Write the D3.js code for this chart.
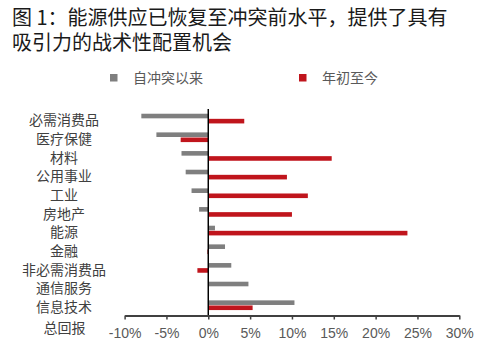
<!DOCTYPE html>
<html><head><meta charset="utf-8">
<script src="https://cdn.jsdelivr.net/npm/d3@7"></script>
<style>
body{margin:0;background:#fff;}
svg{font-family:"Liberation Sans","Noto Sans CJK SC",sans-serif;}
</style></head>
<body><svg id="c" width="487" height="347"></svg>
<script>
const titleLines = ["图 1：能源供应已恢复至冲突前水平，提供了具有", "吸引力的战术性配置机会"];
const categories = ["必需消费品","医疗保健","材料","公用事业","工业","房地产","能源","金融","非必需消费品","通信服务","信息技术"];
const axisTitle = "总回报";
const seriesNames = ["自冲突以来","年初至今"];
const sinceConflict = [-8.0,-6.2,-3.2,-2.7,-2.0,-1.1,0.8,2.0,2.75,4.8,10.3];
const yearToDate = [4.3,-3.3,14.75,9.4,11.9,10.0,23.8,-0.1,-1.3,0,5.3];
const ticks = [-10,-5,0,5,10,15,20,25,30];
const colors = ["#7f7f7f","#c0151c"];

const svg = d3.select("#c");
const title = svg.append("text")
  .attr("font-size",20).attr("fill","#1a1a1a")
  .attr("font-family","'Noto Sans CJK SC',sans-serif");
title.selectAll("tspan").data(titleLines).enter().append("tspan")
  .attr("x",12).attr("y",(d,i)=>25+i*25).text(d=>d);

// legend
const legX = [110, 299];
seriesNames.forEach((n,i)=>{
  svg.append("rect").attr("x",legX[i]).attr("y",74).attr("width",7.5).attr("height",7.5).attr("fill",colors[i]);
  svg.append("text").attr("x",legX[i]+23).attr("y",78).attr("dy","0.35em")
    .attr("font-size",14).attr("fill","#595959")
    .attr("font-family","'Noto Sans CJK SC',sans-serif").text(n);
});

const x = d3.scaleLinear().domain([-10,30]).range([124.6,459.3]);
const y = d3.scaleBand().domain(categories).range([109.2,314.5]).padding(0);
const bh = 4.6;

const g = svg.append("g");
categories.forEach((c,i)=>{
  const cy = y(c)+y.bandwidth()/2;
  const v1 = sinceConflict[i], v2 = yearToDate[i];
  g.append("rect").attr("x",x(Math.min(0,v1))).attr("width",Math.abs(x(v1)-x(0)))
    .attr("y",cy-bh-0.2).attr("height",bh).attr("fill",colors[0]);
  g.append("rect").attr("x",x(Math.min(0,v2))).attr("width",Math.abs(x(v2)-x(0)))
    .attr("y",cy+0.3).attr("height",bh).attr("fill",colors[1]);
  svg.append("text").attr("x",64).attr("y",cy+2).attr("dy","0.35em")
    .attr("text-anchor","middle").attr("font-size",14).attr("fill","#404040")
    .attr("font-family","'Noto Sans CJK SC',sans-serif").text(c);
});
svg.append("text").attr("x",64.5).attr("y",328).attr("dy","0.35em")
  .attr("text-anchor","middle").attr("font-size",14).attr("fill","#404040")
  .attr("font-family","'Noto Sans CJK SC',sans-serif").text(axisTitle);

// zero line
svg.append("line").attr("x1",x(0)).attr("x2",x(0)).attr("y1",109).attr("y2",315)
  .attr("stroke","#000").attr("stroke-width",1.5);

// x axis
const ax = svg.append("g").attr("transform","translate(0,315.5)")
  .call(d3.axisBottom(x).tickValues(ticks).tickSize(4).tickSizeOuter(0).tickFormat(d=>d+"%"));
ax.select(".domain").attr("stroke","#404040").attr("stroke-width",2);
ax.selectAll(".tick line").attr("stroke","#404040").attr("stroke-width",1.5);
ax.selectAll(".tick text").attr("font-size",14).attr("fill","#595959")
  .attr("font-family","'Liberation Sans',sans-serif").attr("dy","0").attr("y",22.5);
</script></body></html>
